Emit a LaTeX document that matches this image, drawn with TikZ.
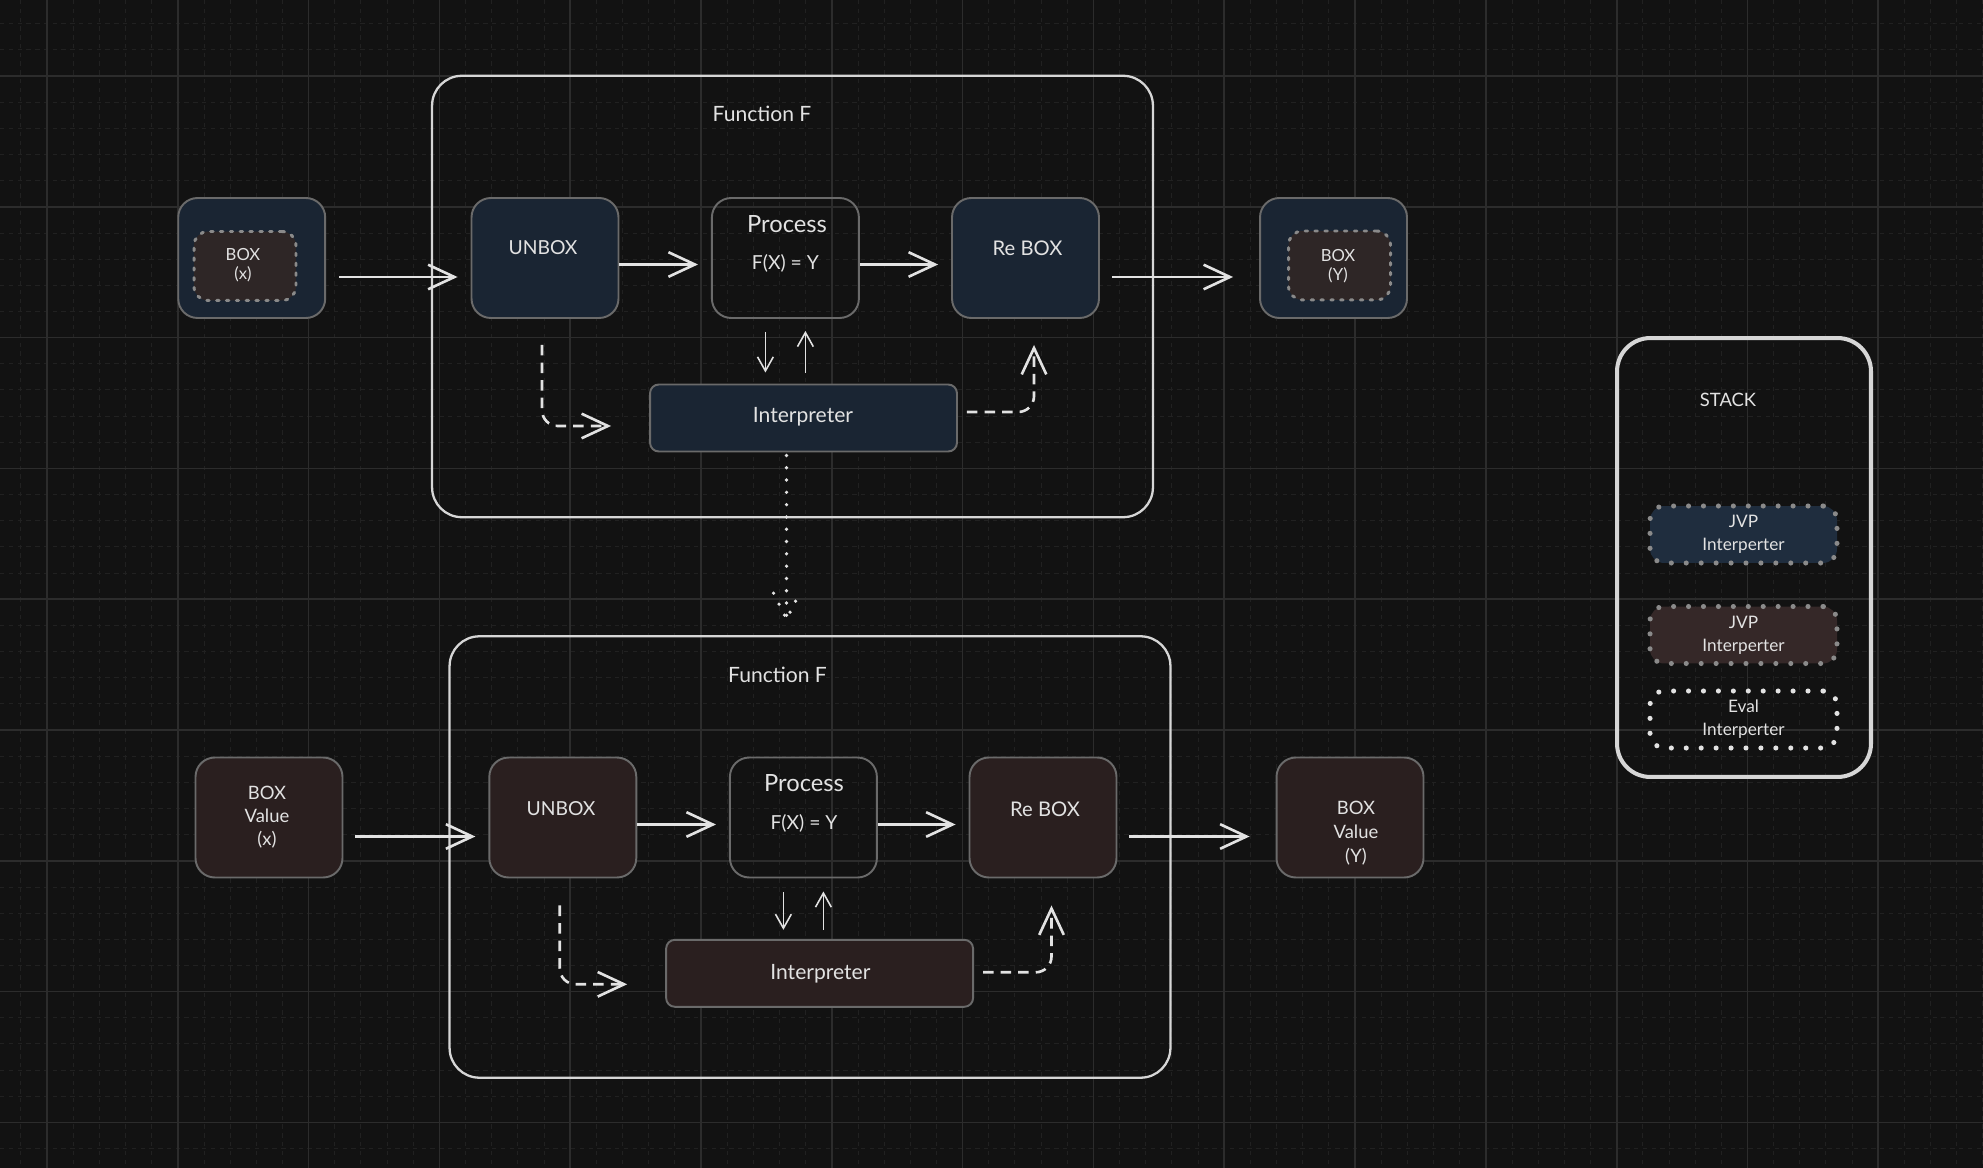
\documentclass[tikz,border=0pt]{standalone}
\usepackage{fontspec}
\setmainfont{Lato}
\usepackage{tikz}
\usetikzlibrary{arrows.meta}
\usetikzlibrary{calc}

\definecolor{bgc}{HTML}{121212}
\definecolor{gridmajc}{HTML}{2C2C2C}
\definecolor{gridminc}{HTML}{212121}
\definecolor{inkc}{HTML}{E2E2E2}
\definecolor{framec}{HTML}{D6D6D6}
\definecolor{edgec}{HTML}{6A6A6A}
\definecolor{dotc}{HTML}{8A8A8A}
\definecolor{bluec}{HTML}{1A2533}
\definecolor{brownc}{HTML}{2A1F1F}
\definecolor{innerc}{HTML}{2E2626}
\definecolor{jvpblue}{HTML}{1F2D3E}
\definecolor{jvpbrown}{HTML}{352828}

\begin{document}
\begin{tikzpicture}[x=0.02cm,y=-0.02cm,
    gridmin/.style={draw=gridminc,line width=0.5pt,dash pattern=on 2.5pt off 2.5pt},
    gridmaj/.style={draw=gridmajc,line width=1pt},
    blk/.style={draw=edgec,line width=1.1pt,rounded corners=11pt,inner sep=0pt,
        minimum width=2.94cm,minimum height=2.4cm},
    blueblk/.style={blk,fill=bluec},
    brownblk/.style={blk,fill=brownc},
    inbox/.style={draw=dotc,fill=innerc,line width=1.7pt,line cap=round,
        dash pattern=on 1.4pt off 4.2pt,rounded corners=8pt,
        minimum width=2.04cm,minimum height=1.38cm},
    interp/.style={draw=edgec,line width=1.1pt,rounded corners=5pt,
        minimum width=6.14cm,minimum height=1.34cm},
    frame/.style={draw=framec,line width=1.3pt,rounded corners=17pt,
        minimum width=14.42cm,minimum height=8.83cm},
    stackframe/.style={draw=framec,line width=2.3pt,rounded corners=19pt,
        minimum width=5.08cm,minimum height=8.78cm},
    stackitem/.style={line width=2.9pt,line cap=round,dash pattern=on 0pt off 8.5pt,
        rounded corners=8pt,minimum width=3.74cm,minimum height=1.14cm,
        text=inkc,align=center,font=\fontsize{9.8}{13}\selectfont},
    txt/.style={text=inkc,font=\fontsize{11}{13}\selectfont,align=center,inner sep=0pt},
    flow/.style={draw=inkc,line width=1.5pt,-{Straight Barb[length=15pt,width=14pt]}},
    thinflow/.style={draw=inkc,line width=0.9pt,-{Straight Barb[length=8pt,width=9pt]}},
    dashflow/.style={flow,dash pattern=on 6pt off 4pt,rounded corners=9pt},
    dotline/.style={draw=inkc,line width=2.1pt,line cap=round,dash pattern=on 0pt off 7pt}
]
    \useasboundingbox (0,0) rectangle (1983,1168);
    \fill[bgc] (0,0) rectangle (1983,1168);

    % grid
    \foreach \i in {0,...,76} {
        \draw[gridmin] ({-5.32+26.16*\i},0) -- ({-5.32+26.16*\i},1168);
    }
    \foreach \j in {0,...,44} {
        \draw[gridmin] (0,{23.68+26.16*\j}) -- (1983,{23.68+26.16*\j});
    }
    \foreach \i in {0,...,14} {
        \draw[gridmaj] ({47+130.8*\i},0) -- ({47+130.8*\i},1168);
    }
    \foreach \j in {0,...,8} {
        \draw[gridmaj] (0,{76+130.8*\j}) -- (1983,{76+130.8*\j});
    }

    % top function
    \node[frame] (frame1) at (792.5,296.5) {};
    \node[txt,font=\fontsize{12}{14}\selectfont] (flbl1) at (762,114) {Function F};
    \node[blueblk] (boxx) at (251.7,258) {};
    \node[inbox] (boxxin) at (245,266) {};
    \node[txt,font=\fontsize{9.5}{11}\selectfont] (boxxlbl) at (243,265.5) {BOX\\(x)};
    \node[blueblk] (unbox1) at (545,258) {};
    \node[txt] (unbox1lbl) at (543,248) {UNBOX};
    \node[blk] (proc1) at (785.4,258) {};
    \node[txt,font=\fontsize{13.5}{15}\selectfont] (proc1lbl) at (787,224) {Process};
    \node[txt] (fx1) at (785.4,263) {F(X) = Y};
    \node[blueblk] (rebox1) at (1025.5,258) {};
    \node[txt,font=\fontsize{11.5}{13}\selectfont] (rebox1lbl) at (1027.5,248) {Re BOX};
    \node[blueblk] (boxy) at (1333.5,258) {};
    \node[inbox] (boxyin) at (1339.5,265.5) {};
    \node[txt,font=\fontsize{9.5}{11}\selectfont] (boxylbl) at (1338,266) {BOX\\(Y)};
    \node[interp,fill=bluec] (interp1) at (803.5,418) {};
    \node[txt,font=\fontsize{12}{14}\selectfont] (interp1lbl) at (803,417) {Interpreter};

    \draw[flow] ($(boxx.east)+(13,19)$) -- ($(unbox1.west)+(-13,19)$);
    \draw[flow] ($(unbox1.east)+(0,6.5)$) -- ($(proc1.west)+(-13,6.5)$);
    \draw[flow] ($(proc1.east)+(0,6.5)$) -- ($(rebox1.west)+(-13,6.5)$);
    \draw[flow] ($(rebox1.east)+(12,19)$) -- ($(boxy.west)+(-26,19)$);
    \draw[thinflow] ($(proc1.south)+(-20,13)$) -- ($(proc1.south |- interp1.north)+(-20,-11)$);
    \draw[thinflow] ($(proc1.south |- interp1.north)+(20,-11)$) -- ($(proc1.south)+(20,12)$);
    \draw[dashflow] ($(unbox1.south)+(-3,26)$) |- ($(interp1.west)+(-38,8)$);
    \draw[dashflow] ($(interp1.east)+(9,-6)$) -| ($(rebox1.south)+(8.5,26)$);

    % bottom function
    \node[frame] (frame2) at (810,857) {};
    \node[txt,font=\fontsize{12}{14}\selectfont] (flbl2) at (777.5,675) {Function F};
    \node[brownblk] (valx) at (269,817.5) {};
    \node[txt,font=\fontsize{10.5}{13}\selectfont] (valxlbl) at (267,817) {BOX\\Value\\(x)};
    \node[brownblk] (unbox2) at (562.8,817.5) {};
    \node[txt] (unbox2lbl) at (561,809) {UNBOX};
    \node[blk] (proc2) at (803.4,817.5) {};
    \node[txt,font=\fontsize{13.5}{15}\selectfont] (proc2lbl) at (804,783) {Process};
    \node[txt] (fx2) at (804,823) {F(X) = Y};
    \node[brownblk] (rebox2) at (1043,817.5) {};
    \node[txt,font=\fontsize{11.5}{13}\selectfont] (rebox2lbl) at (1045,809) {Re BOX};
    \node[brownblk] (valy) at (1350,817.5) {};
    \node[txt,font=\fontsize{10.5}{13.5}\selectfont] (valylbl) at (1356,833) {BOX\\Value\\(Y)};
    \node[interp,fill=brownc] (interp2) at (819.6,973.3) {};
    \node[txt,font=\fontsize{12}{14}\selectfont] (interp2lbl) at (820.4,974) {Interpreter};

    \draw[flow] ($(valx.east)+(12,19)$) -- ($(unbox2.west)+(-13,19)$);
    \draw[flow] ($(unbox2.east)+(0,7)$) -- ($(proc2.west)+(-13,7)$);
    \draw[flow] ($(proc2.east)+(0,7)$) -- ($(rebox2.west)+(-13,7)$);
    \draw[flow] ($(rebox2.east)+(12,19)$) -- ($(valy.west)+(-26,19)$);
    \draw[thinflow] ($(proc2.south)+(-20,14)$) -- ($(proc2.south |- interp2.north)+(-20,-9)$);
    \draw[thinflow] ($(proc2.south |- interp2.north)+(20,-9)$) -- ($(proc2.south)+(20,13)$);
    \draw[dashflow] ($(unbox2.south)+(-3,27)$) |- ($(interp2.west)+(-38,11)$);
    \draw[dashflow] ($(interp2.east)+(9,-1)$) -| ($(rebox2.south)+(8.5,27)$);

    % hand-over between the two
    \coordinate (handtip) at ($(interp1.south |- frame2.north)+(-17,-16)$);
    \draw[dotline] ($(interp1.south)+(-17,3)$) -- (handtip);
    \draw[dotline] ($(handtip)+(-13,-26)$) -- (handtip) -- ($(handtip)+(13,-26)$);

    % stack
    \node[stackframe] (stack) at (1744,557.5) {};
    \node[txt,font=\fontsize{10.5}{12}\selectfont] (stacklbl) at (1728,400) {STACK};
    \node[stackitem,draw=dotc,fill=jvpblue] (jvp1) at (1743.5,534.5) {JVP\\Interperter};
    \node[stackitem,draw=dotc,fill=jvpbrown] (jvp2) at (1743.5,635) {JVP\\Interperter};
    \node[stackitem,draw=inkc] (evalit) at (1743.5,719.5) {Eval\\Interperter};
\end{tikzpicture}
\end{document}
